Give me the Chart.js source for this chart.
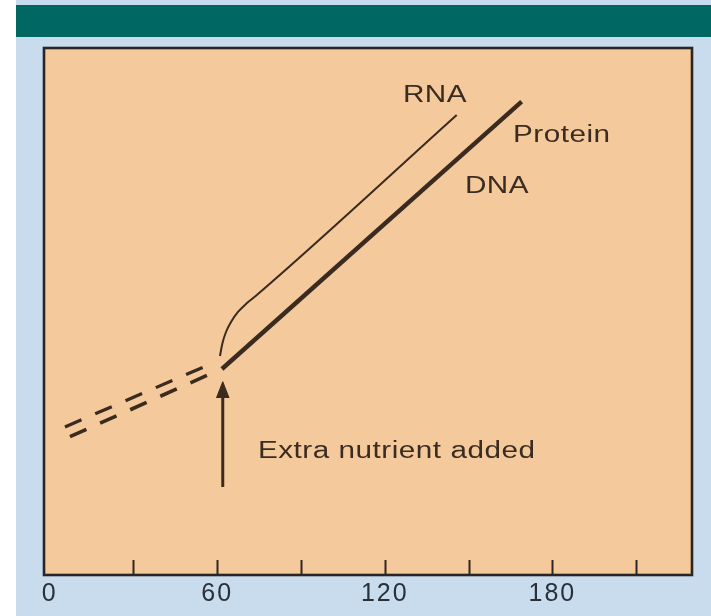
<!DOCTYPE html>
<html>
<head>
<meta charset="utf-8">
<script src="https://cdn.jsdelivr.net/npm/chart.js@4.4.1/dist/chart.umd.min.js"></script>
<style>
  html, body { margin: 0; padding: 0; background: #ffffff; }
  #wrap { position: relative; width: 711px; height: 616px; overflow: hidden; }
  #bg { position: absolute; left: 16px; top: 0; width: 695px; height: 616px; background: #c9dcee; }
  #band { position: absolute; left: 16px; top: 5px; width: 695px; height: 32px; background: #006763; }
  #c { position: absolute; left: 0; top: 0; }
</style>
</head>
<body>
<div id="wrap">
  <div id="bg"></div>
  <div id="band"></div>
  <canvas id="c" width="711" height="616"></canvas>
</div>
<script>
// ---- Data (time in minutes on x; relative amount, arbitrary units, on y) ----
const tickLabelValues = [0, 60, 120, 180];
const tickMarkValues = [30, 60, 90, 120, 150, 180, 210];

// Before nutrient addition (dashed)
const rnaBeforeTime = [5.5, 56.8];
const rnaBeforeAmount = [28.1, 39.85];
const dnaBeforeTime = [7.3, 58.0];
const dnaBeforeAmount = [26.24, 38.27];

// After nutrient addition (solid)
const dnaProteinTime = [61.7, 169.0];
const dnaProteinAmount = [39.09, 89.81];
const rnaAfterTime = [61.0, 61.9, 63.16, 64.95, 67.45, 70.67, 74.61, 145.76];
const rnaAfterAmount = [41.56, 44.02, 46.11, 48.01, 49.91, 51.61, 53.32, 87.29];

// Arrow marking nutrient addition
const arrowTime = [62, 62];
const arrowAmount = [16.7, 33.59];
const arrowHeadTime = [59.74, 62, 64.26];
const arrowHeadAmount = [33.59, 36.68, 33.59];

// Text annotations
const annoText = ['RNA', 'Protein', 'DNA', 'Extra nutrient added'];
const annoTime = [126.5, 165.9, 148.7, 74.6];
const annoAmount = [90.9, 83.3, 73.6, 23.35];

const zip = (xs, ys) => xs.map((x, i) => ({ x, y: ys[i] }));
const INK = '#3a2a1f';

const plotStyle = {
  id: 'plotStyle',
  beforeDraw(chart) {
    const { ctx, chartArea: a } = chart;
    ctx.save();
    ctx.fillStyle = '#f4c99b';
    ctx.fillRect(a.left, a.top, a.right - a.left, a.bottom - a.top);
    ctx.restore();
    ctx.letterSpacing = '2px';
  },
  afterDraw(chart) {
    const { ctx, chartArea: a, scales } = chart;
    const xs = scales.x, ys = scales.y;
    ctx.save();
    ctx.strokeStyle = '#2e2622';
    ctx.lineWidth = 2;
    tickMarkValues.forEach(v => {
      const px = Math.round(xs.getPixelForValue(v)) + 0.5;
      ctx.beginPath();
      ctx.moveTo(px, a.bottom);
      ctx.lineTo(px, a.bottom - 15);
      ctx.stroke();
    });
    ctx.strokeStyle = '#2a2522';
    ctx.lineWidth = 2.6;
    ctx.strokeRect(a.left, a.top, a.right - a.left, a.bottom - a.top);
    ctx.fillStyle = '#3b2c22';
    ctx.font = '23px "Liberation Sans", Arial, sans-serif';
    ctx.letterSpacing = '0.4px';
    ctx.textBaseline = 'middle';
    ctx.textAlign = 'left';
    annoText.forEach((t, i) => {
      ctx.save();
      ctx.translate(xs.getPixelForValue(annoTime[i]), ys.getPixelForValue(annoAmount[i]));
      ctx.scale(1.29, 1);
      ctx.fillText(t, 0, 0);
      ctx.restore();
    });
    ctx.restore();
  }
};

new Chart(document.getElementById('c'), {
  type: 'line',
  data: {
    datasets: [
      { label: 'RNA (before)', data: zip(rnaBeforeTime, rnaBeforeAmount), borderColor: INK, borderWidth: 3.2, borderDash: [18, 15], pointRadius: 0 },
      { label: 'DNA / Protein (before)', data: zip(dnaBeforeTime, dnaBeforeAmount), borderColor: INK, borderWidth: 3.6, borderDash: [18, 15], pointRadius: 0 },
      { label: 'DNA / Protein', data: zip(dnaProteinTime, dnaProteinAmount), borderColor: INK, borderWidth: 4.4, pointRadius: 0 },
      { label: 'RNA', data: zip(rnaAfterTime, rnaAfterAmount), borderColor: INK, borderWidth: 2, pointRadius: 0, cubicInterpolationMode: 'monotone' },
      { label: 'arrow', data: zip(arrowTime, arrowAmount), borderColor: INK, borderWidth: 3, pointRadius: 0 },
      { label: 'arrowhead', data: zip(arrowHeadTime, arrowHeadAmount), borderColor: INK, backgroundColor: INK, borderWidth: 1, pointRadius: 0, fill: { value: arrowHeadAmount[0] } }
    ]
  },
  options: {
    responsive: false,
    animation: false,
    events: [],
    layout: { padding: { left: 44, right: 19, top: 48, bottom: 0 } },
    plugins: { legend: { display: false }, tooltip: { enabled: false } },
    scales: {
      x: {
        type: 'linear',
        min: -2,
        max: 230,
        grid: { display: false, drawTicks: false },
        border: { display: false },
        afterBuildTicks: (scale) => { scale.ticks = tickLabelValues.map(v => ({ value: v })); },
        afterFit: (scale) => { scale.height = 41; },
        ticks: {
          padding: 4,
          autoSkip: false,
          maxRotation: 0,
          color: '#28303a',
          font: { family: '"Liberation Sans", Arial, sans-serif', size: 25 },
          callback: (v) => String(v)
        }
      },
      y: { type: 'linear', min: 0, max: 100, display: false }
    }
  },
  plugins: [plotStyle]
});
</script>
</body>
</html>
